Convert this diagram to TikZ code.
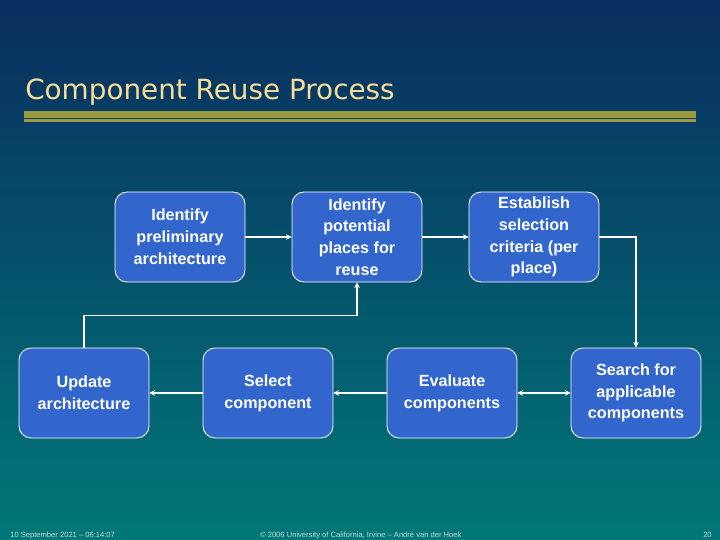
\documentclass[tikz,border=0pt]{standalone}
\usepackage{fontspec}
\setmainfont{Liberation Sans}
\newfontfamily\titlefont{DejaVu Sans}
\usetikzlibrary{arrows.meta,positioning}
\definecolor{slidetop}{RGB}{10,45,95}
\definecolor{slidebottom}{RGB}{0,120,120}
\definecolor{boxblue}{RGB}{51,102,204}
\definecolor{titleyellow}{RGB}{245,222,150}
\definecolor{rulegreen}{RGB}{153,153,64}
\definecolor{footgray}{RGB}{205,215,215}
\begin{document}
\begin{tikzpicture}[node distance=4.425cm,
    procbox/.style={rectangle, draw=white, line width=0.6pt, rounded corners=0.3cm, fill=boxblue, text=white, align=center, font=\bfseries\fontsize{11.5}{15.5}\selectfont, minimum width=3.25cm, minimum height=2.25cm, inner sep=2pt},
    flow/.style={draw=white, line width=1.1pt, -{Stealth[length=4pt,width=4pt]}},
    foot/.style={text=footgray, font=\fontsize{5.4}{6}\selectfont, inner sep=0pt}]
    % slide background
    \shade[top color=slidetop, bottom color=slidebottom] (0,0) rectangle (18,-13.5);
    \node (title) [anchor=base west, inner sep=0pt, text=titleyellow, font=\titlefont\fontsize{19.8}{24}\selectfont] at (0.625,-2.475) {Component Reuse Process};
    \fill[rulegreen] (0.6,-2.775) rectangle (17.4,-2.94);
    \fill[rulegreen] (0.6,-2.975) rectangle (17.4,-3.05);
    % top row
    \node (prelim) [procbox] at (4.5,-5.925) {Identify\\preliminary\\architecture};
    \node (places) [procbox, right of=prelim] {Identify\\potential\\places for\\reuse};
    \node (criteria) [procbox, right of=places] {Establish\\selection\\criteria (per\\place)};
    % bottom row
    \node (update) [procbox] at (2.1,-9.825) {Update\\architecture};
    \node (select) [procbox, right of=update, node distance=4.6cm] {Select\\component};
    \node (evaluate) [procbox, right of=select, node distance=4.6cm] {Evaluate\\components};
    \node (search) [procbox, right of=evaluate, node distance=4.6cm] {Search for\\applicable\\components};
    \draw[flow] (prelim) -- (places);
    \draw[flow] (places) -- (criteria);
    \draw[flow] (criteria.east) -| (search.north);
    \draw[flow, {Stealth[length=4pt,width=4pt]}-{Stealth[length=4pt,width=4pt]}] (evaluate) -- (search);
    \draw[flow] (evaluate) -- (select);
    \draw[flow] (select) -- (update);
    \draw[flow] (update.north) -- ++(0,0.8) -| (places.south);
    % footer
    \node (date) [foot, anchor=base west] at (0.25,-13.425) {10 September 2021 -- 06:14:07};
    \node (copy) [foot, anchor=base] at (9.02,-13.425) {© 2006 University of California, Irvine -- André van der Hoek};
    \node (page) [foot, anchor=base east] at (17.8,-13.425) {20};
\end{tikzpicture}
\end{document}
